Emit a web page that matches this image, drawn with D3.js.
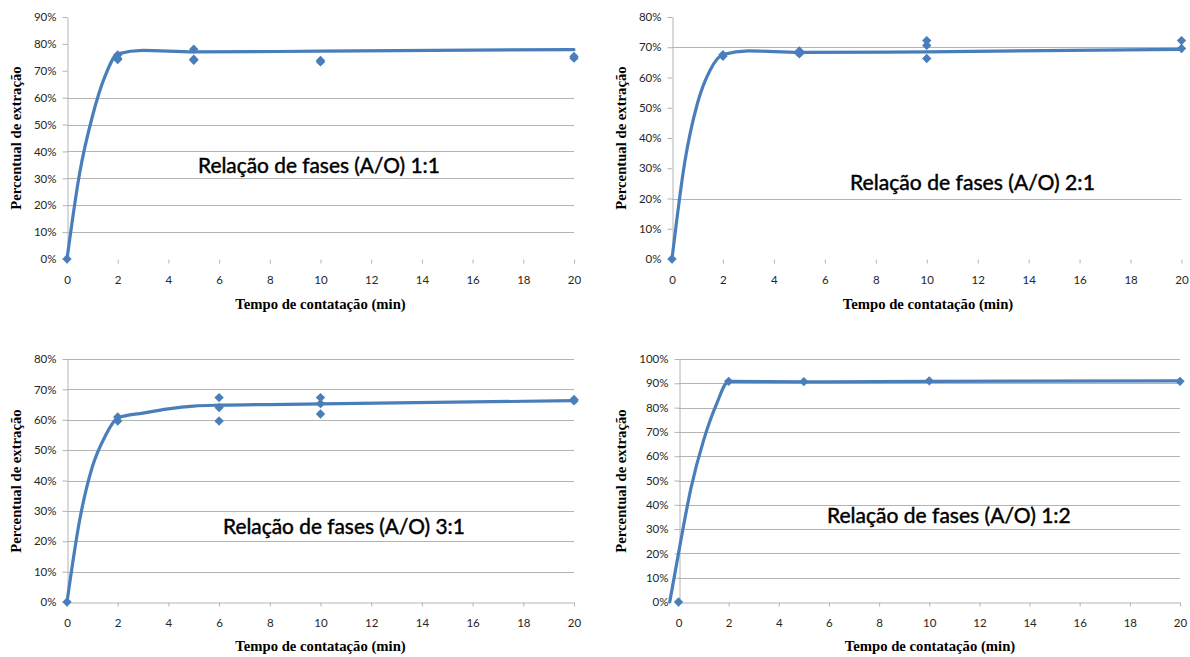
<!DOCTYPE html>
<html>
<head>
<meta charset="utf-8">
<script src="https://cdn.jsdelivr.net/npm/d3@7"></script>
<style>
  body { margin: 0; background: #fff; }
  svg { display: block; }
</style>
</head>
<body>
<svg id="chart" width="1190" height="657"></svg>
<script>
// ---------------- DATA ----------------
const timeTicks = [0, 2, 4, 6, 8, 10, 12, 14, 16, 18, 20];
const xTitle = "Tempo de contatação (min)";
const yTitle = "Percentual de extração";
const panelLabels = [
  "Relação de fases (A/O) 1:1",
  "Relação de fases (A/O) 2:1",
  "Relação de fases (A/O) 3:1",
  "Relação de fases (A/O) 1:2"
];

// Panel 1:1
const yTicks11 = [0, 10, 20, 30, 40, 50, 60, 70, 80, 90];
const time11 = [0, 2, 2, 2, 5, 5, 5, 10, 10, 20, 20];
const extr11 = [0, 75.9, 74.6, 74.2, 78.0, 74.3, 73.9, 73.8, 73.3, 75.3, 74.7];
const fitTime11 = [0, 0.5, 1, 1.5, 2, 3, 5, 10, 20];
const fitExtr11 = [0, 32, 53, 68, 76.3, 77.6, 77.0, 77.3, 77.9];

// Panel 2:1
const yTicks21 = [0, 10, 20, 30, 40, 50, 60, 70, 80];
const time21 = [0, 2, 2, 5, 5, 5, 10, 10, 10, 20, 20];
const extr21 = [0, 67.5, 67.0, 68.8, 68.2, 67.8, 72.2, 70.6, 66.3, 72.2, 69.6];
const fitTime21 = [0, 0.5, 1, 1.5, 2, 3, 5, 10, 20];
const fitExtr21 = [0, 32, 51.5, 62.5, 67.6, 68.8, 68.3, 68.5, 69.3];

// Panel 3:1
const yTicks31 = [0, 10, 20, 30, 40, 50, 60, 70, 80];
const time31 = [0, 2, 2, 6, 6, 6, 10, 10, 10, 20, 20];
const extr31 = [0, 60.9, 59.6, 67.3, 64.0, 59.6, 67.3, 65.3, 61.9, 66.7, 66.2];
const fitTime31 = [0, 0.5, 1, 1.5, 2, 3, 4, 5, 6, 10, 20];
const fitExtr31 = [0, 27, 44.5, 54.5, 60.6, 62.2, 63.6, 64.5, 64.8, 65.2, 66.3];

// Panel 1:2
const yTicks12 = [0, 10, 20, 30, 40, 50, 60, 70, 80, 90, 100];
const time12 = [0, 2, 5, 10, 20];
const extr12 = [0, 90.8, 90.7, 91.0, 90.8];
const fitTime12 = [-0.35, 0, 0.5, 1, 1.5, 2, 5, 10, 20];
const fitExtr12 = [0, 20, 47, 66.5, 81, 90.8, 90.6, 90.8, 91.0];

// ---------------- LAYOUT ----------------
const layout = [
  { x0: 67, x1: 574, yb: 259, yt: 17, yMax: 90, grid: [10, 20, 30, 40, 50, 60], xLine: false,
    label: { x: 198, y: 172.5, w: 242 }, xt: { x: 320.5, y: 309 }, yt2: { x: 16, y: 138 } },
  { x0: 672, x1: 1181.5, yb: 259, yt: 17, yMax: 80, grid: [20, 70], xLine: false,
    label: { x: 850, y: 190, w: 245 }, xt: { x: 928, y: 309 }, yt2: { x: 621, y: 138 } },
  { x0: 67, x1: 574, yb: 602, yt: 359, yMax: 80, grid: [10, 20, 30, 40, 50, 60, 70, 80], xLine: true,
    label: { x: 223, y: 534, w: 242 }, xt: { x: 320.5, y: 651 }, yt2: { x: 16, y: 481 } },
  { x0: 678.5, x1: 1180, yb: 602, yt: 359, yMax: 100, grid: [10, 20, 30, 40, 50, 60, 70, 80, 90, 100], xLine: true,
    label: { x: 827, y: 523, w: 244 }, xt: { x: 930, y: 651 }, yt2: { x: 621, y: 481 } }
];

const series = [
  { yTicks: yTicks11, tx: time11, ty: extr11, fx: fitTime11, fy: fitExtr11 },
  { yTicks: yTicks21, tx: time21, ty: extr21, fx: fitTime21, fy: fitExtr21 },
  { yTicks: yTicks31, tx: time31, ty: extr31, fx: fitTime31, fy: fitExtr31 },
  { yTicks: yTicks12, tx: time12, ty: extr12, fx: fitTime12, fy: fitExtr12 }
];

const blue = "#4a7ebb";
const gridCol = "#b4b4b4";
const svg = d3.select("#chart");

function drawPanel(p, s, label) {
  const x = d3.scaleLinear().domain([0, 20]).range([p.x0, p.x1]);
  const y = d3.scaleLinear().domain([0, p.yMax]).range([p.yb, p.yt]);
  const g = svg.append("g");

  // gridlines
  g.append("g").selectAll("line").data(p.grid).join("line")
    .attr("x1", p.x0).attr("x2", p.x1)
    .attr("y1", v => Math.round(y(v)) + 0.5).attr("y2", v => Math.round(y(v)) + 0.5)
    .attr("stroke", gridCol).attr("stroke-width", 1);

  // y axis
  const yAxis = d3.axisLeft(y).tickValues(s.yTicks).tickFormat(v => v + "%")
    .tickSize(5).tickSizeOuter(0).tickPadding(6);
  const ya = g.append("g").attr("transform", `translate(${Math.round(p.x0) + 0.5},0)`).call(yAxis);
  ya.select(".domain").attr("stroke", gridCol);
  ya.selectAll(".tick line").attr("stroke", gridCol);
  ya.selectAll(".tick text").attr("font-family", "Lato, 'Open Sans', sans-serif")
    .attr("font-size", 11.5).attr("fill", "#262626");

  // x axis
  const xAxis = d3.axisBottom(x).tickValues(timeTicks).tickFormat(d3.format("d"))
    .tickSize(4).tickSizeOuter(0).tickPadding(12);
  const xa = g.append("g").attr("transform", `translate(0,${Math.round(p.yb) + 0.5})`).call(xAxis);
  xa.select(".domain").attr("stroke", p.xLine ? gridCol : "none");
  xa.selectAll(".tick line").attr("stroke", gridCol);
  xa.selectAll(".tick text").attr("font-family", "Lato, 'Open Sans', sans-serif")
    .attr("font-size", 11.5).attr("fill", "#262626");

  // fitted curve
  const fit = s.fx.map((v, i) => [v, s.fy[i]]);
  const line = d3.line().x(d => x(d[0])).y(d => y(d[1])).curve(d3.curveMonotoneX);
  g.append("path").attr("d", line(fit)).attr("fill", "none")
    .attr("stroke", blue).attr("stroke-width", 3.2).attr("stroke-linecap", "round")
    .attr("stroke-linejoin", "round");

  // measured points
  const pts = s.tx.map((v, i) => [v, s.ty[i]]);
  const sym = d3.symbol(d3.symbolSquare, 44);
  g.append("g").selectAll("path").data(pts).join("path")
    .attr("d", sym)
    .attr("transform", d => `translate(${x(d[0])},${y(d[1])}) rotate(45)`)
    .attr("fill", blue);

  // label
  const t = g.append("text").attr("x", p.label.x).attr("y", p.label.y)
    .attr("font-family", "Lato, 'Open Sans', sans-serif").attr("font-size", 20)
    .attr("fill", "#000").attr("stroke", "#000").attr("stroke-width", 0.45)
    .text(label);
  const w = t.node().getComputedTextLength();
  t.attr("font-size", 20 * p.label.w / w);

  // axis titles
  g.append("text").attr("x", p.xt.x).attr("y", p.xt.y).attr("text-anchor", "middle")
    .attr("font-family", "'Liberation Serif', 'Times New Roman', serif").attr("font-weight", "bold")
    .attr("font-size", 14.7).attr("fill", "#000").text(xTitle);
  g.append("text").attr("transform", `translate(${p.yt2.x},${p.yt2.y}) rotate(-90)`)
    .attr("text-anchor", "middle").attr("dominant-baseline", "central")
    .attr("font-family", "'Liberation Serif', 'Times New Roman', serif").attr("font-weight", "bold")
    .attr("font-size", 14.7).attr("fill", "#000").text(yTitle);
}

layout.forEach((p, i) => drawPanel(p, series[i], panelLabels[i]));
</script>
</body>
</html>
